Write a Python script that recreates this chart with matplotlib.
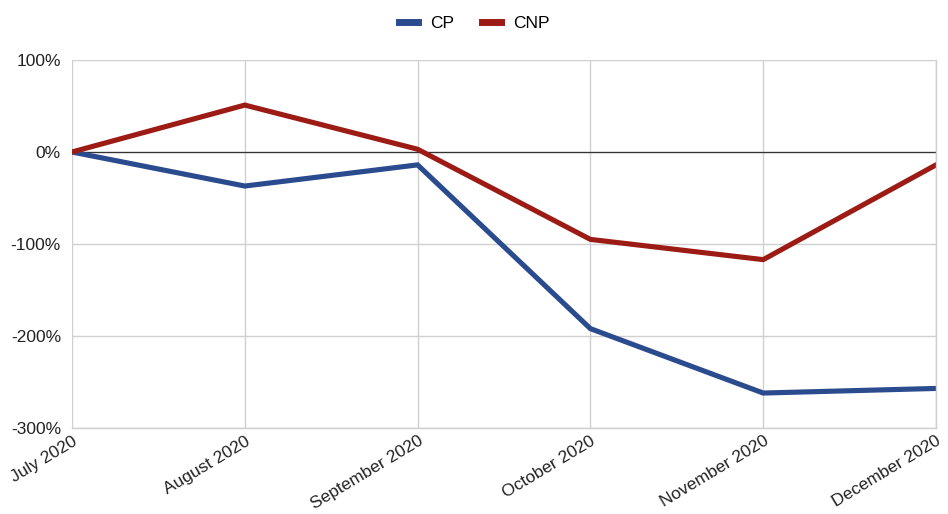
import matplotlib
matplotlib.use("Agg")
import matplotlib.pyplot as plt
from matplotlib.ticker import FuncFormatter

months = ["July 2020", "August 2020", "September 2020", "October 2020", "November 2020", "December 2020"]
cp = [0, -37, -14, -192, -262, -257]
cnp = [0, 51, 3, -95, -117, -14]
yticks = [100, 0, -100, -200, -300]

plt.rcParams['font.family'] = ['Liberation Sans', 'DejaVu Sans']

fig = plt.figure(figsize=(9.48, 5.14), dpi=100)
ax = fig.add_axes([72/948, 1 - 428/514, (936-72)/948, 368/514])

x = list(range(len(months)))
ax.plot(x, cp, color="#2a4b8d", lw=3.7, label="CP", solid_joinstyle='miter')
ax.plot(x, cnp, color="#9c1b14", lw=3.7, label="CNP", solid_joinstyle='miter')
ax.axhline(0, color="#333333", lw=0.9, zorder=1)

ax.set_xlim(0, len(months) - 1)
ax.set_ylim(-300, 100)
ax.set_yticks(yticks)
ax.yaxis.set_major_formatter(FuncFormatter(lambda v, p: f"{int(v)}%"))
ax.set_xticks(x)
ax.set_xticklabels(months, rotation=31, ha='right', rotation_mode='anchor')
ax.tick_params(axis='both', length=0, labelsize=12.5, colors="#222222")
ax.tick_params(axis='x', pad=4)
ax.tick_params(axis='y', pad=8)
ax.grid(True, color="#d0d0d0", lw=1)
ax.set_axisbelow(True)
for s in ['top', 'left']:
    ax.spines[s].set_visible(False)
for s in ['bottom', 'right']:
    ax.spines[s].set_color("#d0d0d0")
    ax.spines[s].set_linewidth(1)

leg = fig.legend(loc='upper center', bbox_to_anchor=(0.5, 1.0), ncol=2, frameon=False,
                 fontsize=12.5, handlelength=1.1, handleheight=0.5, columnspacing=1.6,
                 handletextpad=0.7)
for h in leg.get_lines():
    h.set_linewidth(5)

fig.savefig("out.png", dpi=100)
